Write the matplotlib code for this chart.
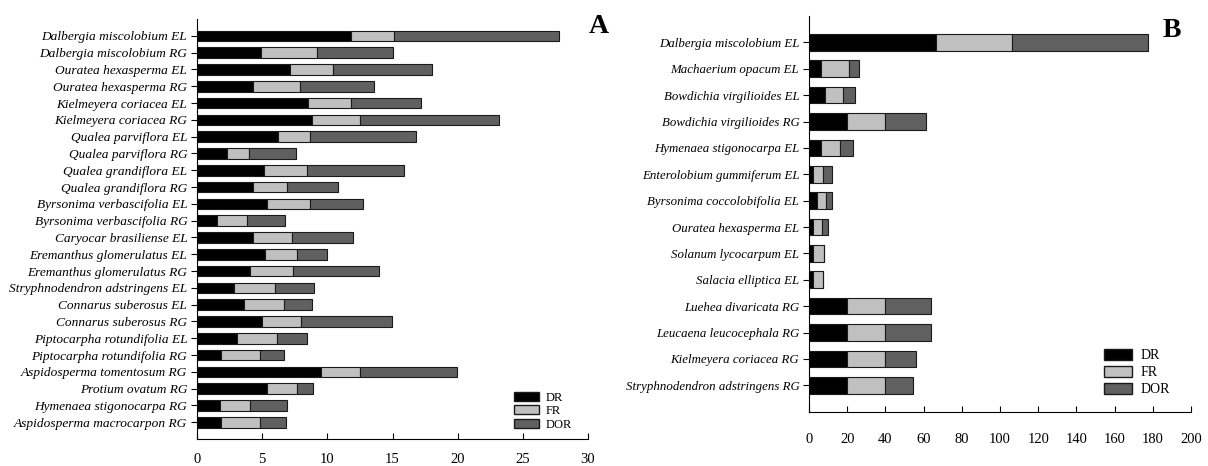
import numpy as np
import matplotlib
matplotlib.use("Agg")
import matplotlib.pyplot as plt
from matplotlib.patches import Patch

plt.rcParams['font.family'] = ['Liberation Serif', 'DejaVu Serif']

# Panel A data
species_a = ["Dalbergia miscolobium EL", "Dalbergia miscolobium RG",
             "Ouratea hexasperma EL", "Ouratea hexasperma RG",
             "Kielmeyera coriacea EL", "Kielmeyera coriacea RG",
             "Qualea parviflora EL", "Qualea parviflora RG",
             "Qualea grandiflora EL", "Qualea grandiflora RG",
             "Byrsonima verbascifolia EL", "Byrsonima verbascifolia RG",
             "Caryocar brasiliense EL", "Eremanthus glomerulatus EL",
             "Eremanthus glomerulatus RG", "Stryphnodendron adstringens EL",
             "Connarus suberosus EL", "Connarus suberosus RG",
             "Piptocarpha rotundifolia EL", "Piptocarpha rotundifolia RG",
             "Aspidosperma tomentosum RG", "Protium ovatum RG",
             "Hymenaea stigonocarpa RG", "Aspidosperma macrocarpon RG"]
dr_a = [11.8, 4.9, 7.15, 4.3, 8.5, 8.8, 6.2, 2.3, 5.15, 4.3, 5.4, 1.55,
        4.3, 5.2, 4.05, 2.85, 3.6, 5.0, 3.1, 1.85, 9.5, 5.4, 1.8, 1.85]
fr_a = [3.3, 4.3, 3.3, 3.6, 3.3, 3.7, 2.5, 1.65, 3.25, 2.6, 3.25, 2.3,
        3.0, 2.5, 3.3, 3.1, 3.1, 2.95, 3.05, 2.95, 3.0, 2.3, 2.25, 2.95]
dor_a = [12.7, 5.85, 7.6, 5.7, 5.4, 10.65, 8.1, 3.65, 7.5, 3.9, 4.1, 2.9,
         4.7, 2.25, 6.6, 3.0, 2.1, 7.0, 2.3, 1.85, 7.45, 1.2, 2.85, 2.0]

# Panel B data
species_b = ["Dalbergia miscolobium EL", "Machaerium opacum EL",
             "Bowdichia virgilioides EL", "Bowdichia virgilioides RG",
             "Hymenaea stigonocarpa EL", "Enterolobium gummiferum EL",
             "Byrsonima coccolobifolia EL", "Ouratea hexasperma EL",
             "Solanum lycocarpum EL", "Salacia elliptica EL",
             "Luehea divaricata RG", "Leucaena leucocephala RG",
             "Kielmeyera coriacea RG", "Stryphnodendron adstringens RG"]
dr_b = [66.6, 6.5, 8.4, 20.0, 6.5, 2.1, 4.2, 2.1, 2.1, 2.1, 20, 20, 20, 20]
fr_b = [39.8, 14.6, 9.6, 20.0, 9.9, 5.0, 4.7, 4.9, 5.9, 5.2, 20, 20, 20, 20]
dor_b = [71.1, 4.9, 6.1, 21.1, 6.4, 4.9, 3.1, 2.9, 0.0, 0.0, 23.8, 23.8, 16.0, 14.6]

series = ["DR", "FR", "DOR"]
colors = ["#000000", "#c0c0c0", "#606060"]

fig = plt.figure(figsize=(12.08, 4.66), dpi=100)
ax_a = fig.add_axes([0.1631, 0.0579, 0.3237, 0.9013])
ax_b = fig.add_axes([0.6697, 0.1165, 0.3162, 0.8492])


def draw(ax, names, vals, xmax, step, fs, xpad, leg_anchor, leg_fs, leg_hh, leg_sp):
    y = np.arange(len(names))
    left = np.zeros(len(names))
    for v, c in zip(vals, colors):
        ax.barh(y, v, left=left, height=0.63, color=c, edgecolor="#1a1a1a",
                linewidth=0.8)
        left = left + np.array(v)
    ax.set_ylim(len(names), -1)
    ax.set_xlim(0, xmax)
    ax.set_yticks(y)
    ax.set_yticklabels(names, fontstyle="italic", fontsize=fs)
    ax.set_xticks(np.arange(0, xmax + 1, step))
    ax.tick_params(axis="x", direction="in", labelsize=10.5, pad=xpad, length=4)
    ax.tick_params(axis="y", direction="out", length=4, pad=3)
    for s in ["top", "right"]:
        ax.spines[s].set_visible(False)
    handles = [Patch(facecolor=c, edgecolor="#1a1a1a", label=s)
               for s, c in zip(series, colors)]
    ax.legend(handles=handles, loc="lower right", bbox_to_anchor=leg_anchor,
              frameon=False, fontsize=leg_fs, handlelength=2.0,
              handleheight=leg_hh, labelspacing=leg_sp, handletextpad=0.6,
              borderpad=0, borderaxespad=0)


draw(ax_a, species_a, [dr_a, fr_a, dor_a], 30, 5, 9.6, 10,
     (0.96, 0.02), 9, 0.75, 0.12)
draw(ax_b, species_b, [dr_b, fr_b, dor_b], 200, 20, 9.3, 15,
     (0.945, 0.04), 10, 0.85, 0.25)

fig.text(0.4876, 0.929, "A", fontsize=20, fontweight="bold")
fig.text(0.9627, 0.921, "B", fontsize=20, fontweight="bold")

fig.savefig("out.png", dpi=100)
